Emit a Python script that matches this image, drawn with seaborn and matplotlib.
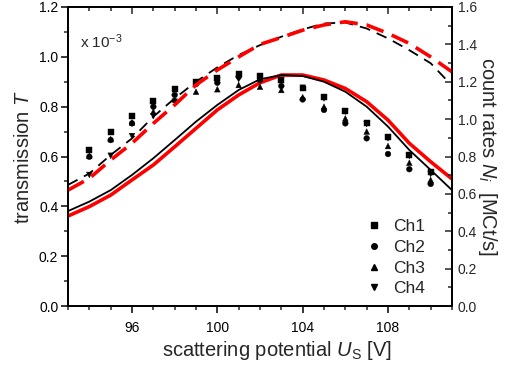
import numpy as np
import pandas as pd
import matplotlib
matplotlib.use("Agg")
import matplotlib.pyplot as plt
import seaborn as sns
from matplotlib.lines import Line2D
from matplotlib.ticker import MultipleLocator

# ---------------- data ----------------
U_meas = [94, 95, 96, 97, 98, 99, 100, 101, 102, 103, 104, 105, 106, 107, 108, 109, 110]
ch1 = [0.626, 0.697, 0.762, 0.824, 0.871, 0.900, 0.914, 0.930, 0.923, 0.907, 0.873, 0.838, 0.784, 0.733, 0.677, 0.606, 0.537]
ch2 = [0.599, 0.666, 0.733, 0.800, 0.847, 0.891, 0.896, 0.920, 0.907, 0.883, 0.829, 0.787, 0.733, 0.673, 0.610, 0.549, 0.490]
ch3 = [0.603, 0.670, 0.737, 0.780, 0.829, 0.860, 0.870, 0.887, 0.880, 0.867, 0.838, 0.800, 0.753, 0.700, 0.642, 0.575, 0.506]
ch4 = [0.526, 0.603, 0.682, 0.762, 0.820, 0.891, 0.907, 0.910, 0.914, 0.907, 0.876, 0.833, 0.780, 0.730, 0.673, 0.602, 0.530]

U_sim = [93, 94, 95, 96, 97, 98, 99, 100, 101, 102, 103, 104, 105, 106, 107, 108, 109, 110, 111]
T_black = [0.381, 0.419, 0.465, 0.526, 0.593, 0.666, 0.740, 0.807, 0.867, 0.910, 0.927, 0.923, 0.900, 0.860, 0.800, 0.720, 0.626, 0.546, 0.465]
T_red = [0.361, 0.399, 0.445, 0.506, 0.566, 0.639, 0.713, 0.787, 0.847, 0.896, 0.927, 0.927, 0.907, 0.873, 0.820, 0.746, 0.653, 0.579, 0.510]

U_rate_black = [93, 94, 95, 96, 97, 98, 99, 100, 101, 102, 103, 104, 105, 106, 107, 108, 109, 110, 110.75]
N_black = [0.648, 0.709, 0.808, 0.897, 1.013, 1.111, 1.200, 1.277, 1.343, 1.396, 1.441, 1.480, 1.512, 1.517, 1.485, 1.432, 1.369, 1.299, 1.209]
U_rate_red = [93, 94, 95, 96, 97, 98, 99, 100, 101, 102, 103, 104, 105, 106, 107, 108, 109, 110, 111]
N_red = [0.620, 0.683, 0.781, 0.871, 0.977, 1.076, 1.183, 1.263, 1.333, 1.400, 1.437, 1.476, 1.504, 1.521, 1.504, 1.459, 1.405, 1.333, 1.253]

channels = ["Ch1", "Ch2", "Ch3", "Ch4"]
markers = {"Ch1": "s", "Ch2": "o", "Ch3": "^", "Ch4": "v"}

x_ticks = [96, 100, 104, 108]
T_ticks = [0.0, 0.2, 0.4, 0.6, 0.8, 1.0, 1.2]
N_ticks = [0.0, 0.2, 0.4, 0.6, 0.8, 1.0, 1.2, 1.4, 1.6]

# ---------------- style ----------------
sns.set_theme(style="ticks")
plt.rcParams["font.family"] = ["Liberation Sans", "DejaVu Sans"]
plt.rcParams["mathtext.fontset"] = "custom"
plt.rcParams["mathtext.rm"] = "Liberation Sans"
plt.rcParams["mathtext.it"] = "Liberation Sans:italic"
plt.rcParams["axes.linewidth"] = 1.1

fig = plt.figure(figsize=(5.14, 3.67), dpi=100)
ax = fig.add_axes([68 / 514, 1 - 306 / 367, (452 - 68) / 514, (306 - 7) / 367])

meas = pd.DataFrame({
    "U": U_meas * 4,
    "T": ch1 + ch2 + ch3 + ch4,
    "ch": sum([[c] * len(U_meas) for c in channels], []),
})

# simulation curves (transmission, left axis)
sns.lineplot(x=U_sim, y=T_black, color="black", linewidth=1.3, ax=ax, zorder=3)
sns.lineplot(x=U_sim, y=T_red, color="#ff0000", linewidth=2.6, ax=ax, zorder=2)

sns.scatterplot(data=meas, x="U", y="T", style="ch", markers=markers,
                style_order=channels, color="black", s=17, edgecolor="black",
                linewidth=0.3, ax=ax, legend=False, zorder=4)

ax.set_xlim(93, 111)
ax.set_ylim(0, 1.2)
ax.set_xticks(x_ticks)
ax.xaxis.set_minor_locator(MultipleLocator(1))
ax.set_yticks(T_ticks)
ax.yaxis.set_minor_locator(MultipleLocator(0.1))
ax.set_yticklabels([f"{v:.1f}" for v in T_ticks])
ax.tick_params(axis="y", which="major", direction="out", length=5, width=1.1,
               labelsize=10, colors="black", pad=2)
ax.tick_params(axis="x", which="major", direction="out", length=5, width=1.1,
               labelsize=10, colors="black", pad=6)
ax.tick_params(axis="both", which="minor", direction="out", length=3, width=1.1)
ax.set_xlabel(r"scattering potential $\mathit{U}_{\mathrm{S}}$ [V]", fontsize=14.5)
ax.set_ylabel(r"transmission $\mathit{T}$", fontsize=14.5, labelpad=4)
ax.xaxis.set_label_coords(0.545, -0.11)

# top inward ticks
axt = ax.twiny()
axt.set_xlim(93, 111)
axt.set_xticks(x_ticks)
axt.xaxis.set_minor_locator(MultipleLocator(1))
axt.tick_params(axis="x", which="major", direction="in", length=5, width=1.1, labeltop=False)
axt.tick_params(axis="x", which="minor", direction="in", length=3, width=1.1)

# count rates (right axis)
ax2 = ax.twinx()
sns.lineplot(x=U_rate_black, y=N_black, color="black", linewidth=1.3,
             linestyle=(0, (6, 4)), ax=ax2)
sns.lineplot(x=U_rate_red, y=N_red, color="#ff0000", linewidth=2.6,
             linestyle=(0, (5, 2.5)), ax=ax2)
ax2.set_ylim(0, 1.6)
ax2.set_yticks(N_ticks)
ax2.set_yticklabels([f"{v:.1f}" for v in N_ticks])
ax2.yaxis.set_minor_locator(MultipleLocator(0.1))
ax2.tick_params(axis="y", which="major", direction="in", length=5, width=1.1,
                labelsize=10, pad=4)
ax2.tick_params(axis="y", which="minor", direction="in", length=3, width=1.1)
ax2.set_ylabel(r"count rates $\mathit{N}_{\mathit{i}}$  [MCt/s]", fontsize=14.5,
               rotation=270, labelpad=16)

for a in (ax, ax2, axt):
    for sp in a.spines.values():
        sp.set_visible(True)
        sp.set_linewidth(1.1)
        sp.set_color("black")

ax.text(0.03, 0.885, r"x 10$^{\mathregular{-3}}$", transform=ax.transAxes,
        fontsize=11, ha="left", va="center")

handles = [Line2D([], [], linestyle="none", marker=markers[c], color="black",
                  markersize=4) for c in channels]
leg = ax2.legend(handles, channels, loc="lower right", frameon=False, fontsize=12.5,
                 bbox_to_anchor=(0.97, -0.02), handletextpad=0.35, labelspacing=0.32,
                 handlelength=1.5)

fig.savefig("out.png", dpi=100)
